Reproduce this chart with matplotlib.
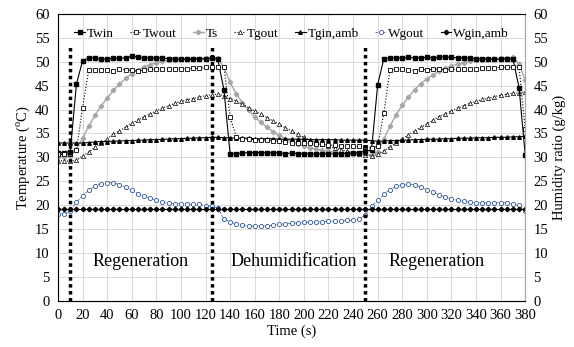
import matplotlib.pyplot as plt

plt.rcParams['font.family'] = ['Liberation Serif', 'DejaVu Serif']
plt.rcParams['mathtext.fontset'] = 'custom'
plt.rcParams['mathtext.rm'] = 'Liberation Serif'

# time axis (s), sampled every 5 s
t = list(range(0, 381, 5))

twin = [31.0, 31.0, 31.2, 45.3, 50.2, 50.8, 50.8, 50.5, 50.6, 50.7,
        50.7, 50.8, 51.1, 51.0, 50.8, 50.7, 50.8, 50.8, 50.6, 50.6,
        50.5, 50.5, 50.5, 50.6, 50.6, 50.7, 50.5, 44.1, 30.7, 30.8,
        30.9, 31.0, 31.0, 31.0, 30.9, 31.0, 30.9, 30.8, 30.9, 30.8,
        30.8, 30.7, 30.7, 30.8, 30.8, 30.7, 30.8, 30.8, 30.9, 31.0,
        31.3, 31.5, 45.2, 50.6, 50.8, 50.8, 50.8, 50.9, 50.8, 50.8,
        50.9, 50.8, 50.9, 51.0, 50.9, 50.8, 50.8, 50.7, 50.6, 50.6,
        50.5, 50.5, 50.5, 50.6, 50.6, 44.6, 30.5]

twout = [30.6, 30.6, 30.8, 31.5, 40.4, 48.3, 48.3, 48.3, 48.2, 48.0,
         48.4, 48.3, 48.2, 48.0, 48.3, 48.4, 48.4, 48.5, 48.5, 48.5,
         48.5, 48.5, 48.6, 48.6, 48.8, 48.8, 48.8, 48.9, 38.4, 34.3,
         33.9, 33.8, 33.7, 33.6, 33.6, 33.5, 33.4, 33.2, 33.1, 33.0,
         33.0, 32.9, 32.8, 32.7, 32.6, 32.5, 32.4, 32.4, 32.3, 32.3,
         32.2, 32.0, 32.3, 39.3, 48.3, 48.4, 48.5, 48.2, 48.1, 48.4,
         48.3, 48.4, 48.5, 48.3, 48.4, 48.4, 48.5, 48.5, 48.5, 48.6,
         48.7, 48.7, 48.8, 48.8, 48.9, 48.9, 35.9]

ts = [30.0, 30.0, 30.3, 31.7, 34.0, 36.5, 38.8, 40.7, 42.4, 44.0,
      45.3, 46.5, 47.5, 48.3, 48.9, 49.4, 49.8, 50.1, 50.3, 50.4,
      50.5, 50.5, 50.6, 50.6, 50.7, 50.8, 50.8, 48.8, 45.7, 43.3,
      41.4, 39.8, 38.5, 37.3, 36.3, 35.4, 34.6, 33.9, 33.3, 32.8,
      32.4, 32.0, 31.7, 31.5, 31.3, 31.1, 31.0, 30.9, 30.8, 30.7,
      30.6, 30.5, 31.2, 33.8, 36.5, 38.9, 40.9, 42.6, 44.1, 45.4,
      46.4, 47.3, 48.0, 48.6, 49.1, 49.5, 49.8, 50.1, 50.3, 50.4,
      50.5, 50.6, 50.7, 50.8, 50.9, 49.5, 46.2]

tgout = [29.3, 29.3, 29.2, 29.4, 30.3, 31.1, 32.1, 33.0, 33.9, 34.8,
         35.6, 36.3, 37.1, 37.8, 38.5, 39.1, 39.7, 40.3, 40.8, 41.3,
         41.7, 42.0, 42.3, 42.6, 42.9, 43.1, 43.2, 42.9, 42.3, 41.8,
         41.1, 40.4, 39.7, 39.0, 38.3, 37.6, 36.9, 36.2, 35.5, 34.8,
         34.2, 33.6, 33.1, 32.7, 32.3, 31.9, 31.6, 31.3, 31.0, 30.7,
         30.5, 30.3, 30.6, 31.4, 32.2, 33.0, 33.9, 34.7, 35.5, 36.3,
         37.0, 37.8, 38.5, 39.1, 39.7, 40.3, 40.8, 41.3, 41.7, 42.1,
         42.4, 42.7, 43.0, 43.2, 43.4, 43.5, 43.7]

tgin_amb = [33.0, 33.0, 33.0, 33.0, 33.0, 33.1, 33.2, 33.3, 33.3, 33.4,
            33.4, 33.5, 33.5, 33.6, 33.6, 33.7, 33.7, 33.8, 33.8, 33.9,
            33.9, 34.0, 34.0, 34.1, 34.1, 34.2, 34.2, 34.1, 34.1, 34.0,
            34.0, 34.0, 33.9, 33.9, 33.9, 33.9, 33.8, 33.8, 33.8, 33.8,
            33.8, 33.7, 33.7, 33.7, 33.7, 33.7, 33.6, 33.6, 33.6, 33.6,
            33.6, 33.5, 33.4, 33.4, 33.5, 33.5, 33.6, 33.6, 33.7, 33.7,
            33.8, 33.8, 33.8, 33.9, 33.9, 34.0, 34.0, 34.0, 34.1, 34.1,
            34.1, 34.2, 34.2, 34.2, 34.3, 34.3, 34.4]

wgout = [18.2, 18.2, 18.7, 20.6, 22.0, 23.1, 24.0, 24.5, 24.7, 24.7,
         24.3, 23.8, 23.1, 22.4, 21.9, 21.5, 21.0, 20.7, 20.4, 20.3,
         20.3, 20.2, 20.2, 20.2, 19.9, 19.8, 19.4, 17.1, 16.5, 16.1,
         15.8, 15.6, 15.6, 15.6, 15.7, 15.8, 16.0, 16.1, 16.2, 16.3,
         16.4, 16.5, 16.5, 16.5, 16.6, 16.7, 16.7, 16.8, 16.9, 17.2,
         17.9, 19.8, 21.0, 22.3, 23.2, 24.0, 24.3, 24.4, 24.3, 23.8,
         23.2, 22.7, 22.2, 21.7, 21.3, 21.0, 20.8, 20.6, 20.5, 20.5,
         20.5, 20.5, 20.5, 20.5, 20.3, 20.1, 18.7]

wgin_amb = [19.1, 19.1, 19.1, 19.1, 19.1, 19.1, 19.1, 19.1, 19.1, 19.1,
            19.1, 19.1, 19.1, 19.1, 19.1, 19.1, 19.1, 19.1, 19.1, 19.1,
            19.1, 19.1, 19.1, 19.1, 19.1, 19.1, 19.1, 19.1, 19.1, 19.1,
            19.1, 19.1, 19.1, 19.1, 19.1, 19.1, 19.1, 19.1, 19.1, 19.1,
            19.1, 19.1, 19.1, 19.1, 19.1, 19.1, 19.1, 19.1, 19.1, 19.1,
            19.1, 19.1, 19.1, 19.1, 19.1, 19.1, 19.1, 19.1, 19.1, 19.1,
            19.1, 19.1, 19.1, 19.1, 19.1, 19.1, 19.1, 19.1, 19.1, 19.1,
            19.1, 19.1, 19.1, 19.1, 19.1, 19.1, 19.1]

# mode switching times and phase labels
switch_t = [10, 125, 250]
switch_top = 53
phases = ["Regeneration", "Dehumidification", "Regeneration"]
phase_x = [67, 192, 308]

fig = plt.figure(figsize=(5.74, 3.47), dpi=100)
ax = fig.add_axes([0.101, 0.133, 0.814, 0.827])

ax.plot(t, twin, '-', color='black', lw=0.8, marker='s', ms=2.8,
        mfc='black', mec='black', label='Twin', zorder=4)
ax.plot(t, twout, ':', color='black', lw=0.8, marker='s', ms=3.4,
        mfc='white', mec='black', mew=0.6, label='Twout', zorder=4)
ax.plot(t, ts, '-', color='#a6a6a6', lw=1.0, marker='D', ms=2.3,
        mfc='#a6a6a6', mec='#a6a6a6', label='Ts', zorder=3)
ax.plot(t, tgout, ':', color='black', lw=0.8, marker='^', ms=3.0,
        mfc='white', mec='black', mew=0.5, label='Tgout', zorder=3)
ax.plot(t, tgin_amb, '-', color='black', lw=0.8, marker='^', ms=2.6,
        mfc='black', mec='black', label='Tgin,amb', zorder=3)
ax.plot(t, wgout, '--', color='#2f5597', lw=0.5, marker='o', ms=3.0,
        mfc='white', mec='#2f5597', mew=0.6, label='Wgout', zorder=3)
ax.plot(t, wgin_amb, '-', color='black', lw=0.8, marker='D', ms=2.3,
        mfc='black', mec='black', label='Wgin,amb', zorder=3)

ax.vlines(switch_t, 0, switch_top, colors='black', lw=2.5,
          linestyles=(0, (1, 1)), zorder=5)

for name, x in zip(phases, phase_x):
    ax.text(x, 8.2, name, ha='center', va='center', fontsize=13)

ax.set_xlim(0, 380)
ax.set_ylim(0, 60)
ax.set_xticks(range(0, 381, 20))
ax.set_yticks(range(0, 61, 5))
ax.grid(True, color='#d9d9d9', lw=0.7)
ax.set_axisbelow(True)
ax.tick_params(length=0, labelsize=10.5, pad=6)
for side in ['top', 'right', 'left']:
    ax.spines[side].set_color('#a6a6a6')
ax.spines['bottom'].set_color('#808080')
ax.set_xlabel('Time (s)', fontsize=10.5, labelpad=2)
ax.set_ylabel(r'Temperature ($^{\mathrm{o}}$C)', fontsize=10.5, labelpad=2)

ax2 = ax.twinx()
ax2.set_ylim(0, 60)
ax2.set_yticks(range(0, 61, 5))
ax2.tick_params(length=0, labelsize=10.5, pad=6)
ax2.spines['right'].set_color('#a6a6a6')
ax2.set_ylabel('Humidity ratio (g/kg)', fontsize=10.5, labelpad=3)

leg = ax.legend(loc='upper center', bbox_to_anchor=(0.5, 0.985), ncol=7,
                frameon=False, fontsize=9.5, handlelength=0.8,
                handletextpad=0.15, columnspacing=1.25, borderaxespad=0.3)

fig.savefig('out.png', dpi=100)
